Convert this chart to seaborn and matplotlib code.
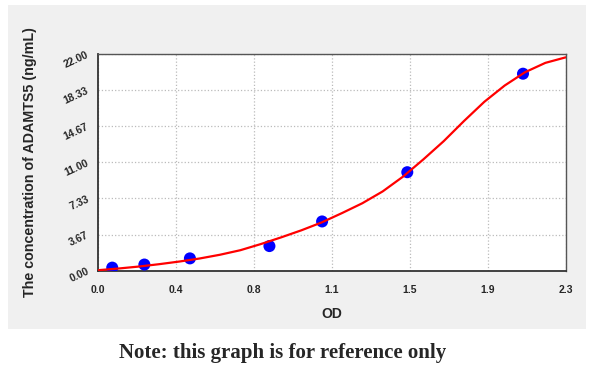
import numpy as np
import seaborn as sns
import matplotlib.pyplot as plt
from matplotlib.patches import Rectangle
from matplotlib.ticker import AutoMinorLocator

# standard points (OD vs concentration)
od = [0.070, 0.228, 0.452, 0.843, 1.102, 1.521, 2.090]
conc = [0.312, 0.625, 1.25, 2.5, 5.0, 10.0, 20.0]

# fitted curve
curve_od = [0.0, 0.1, 0.2, 0.3, 0.4, 0.5, 0.6, 0.7, 0.8, 0.9, 1.0, 1.1,
            1.2, 1.3, 1.4, 1.5, 1.6, 1.7, 1.8, 1.9, 2.0, 2.1, 2.2, 2.3]
curve_conc = [0.05, 0.22, 0.42, 0.66, 0.93, 1.24, 1.62, 2.08, 2.70, 3.38, 4.10, 4.90,
              5.85, 6.85, 8.05, 9.55, 11.30, 13.15, 15.20, 17.15, 18.80, 20.15, 21.10, 21.66]

x_ticks = ['0.0', '0.4', '0.8', '1.1', '1.5', '1.9', '2.3']
y_ticks = ['0.00', '3.67', '7.33', '11.00', '14.67', '18.33', '22.00']

sns.set_style('white')
plt.rcParams['font.family'] = ['Liberation Sans', 'DejaVu Sans']

fig = plt.figure(figsize=(6, 3.88), dpi=100)
fig.patch.set_facecolor('white')
# grey panel behind the plot
fig.patches.append(Rectangle((8 / 600, 1 - 329 / 388), 578 / 600, 324 / 388,
                             transform=fig.transFigure, facecolor='#f0f0f0',
                             edgecolor='none', zorder=-10))

ax = fig.add_axes([98 / 600, 1 - 270.7 / 388, 467.7 / 600, 216.7 / 388])
ax.set_facecolor('white')

sns.scatterplot(x=od, y=conc, ax=ax, color='#0000ff', s=75, edgecolor='none', zorder=3)
sns.lineplot(x=curve_od, y=curve_conc, ax=ax, color='#ff0000', lw=1.6, zorder=4)

ax.set_xlim(0, 2.3)
ax.set_ylim(0, 22)
ax.set_xticks(np.linspace(0, 2.3, 7))
ax.set_xticklabels(x_ticks, fontsize=7.5, fontweight='bold')
ax.set_yticks(np.linspace(0, 22, 7))
ax.set_yticklabels(y_ticks, fontsize=7.5, fontweight='bold', rotation=25,
                   ha='right', va='center', rotation_mode='anchor')
ax.xaxis.set_minor_locator(AutoMinorLocator(4))
ax.yaxis.set_minor_locator(AutoMinorLocator(4))
ax.tick_params(which='major', direction='out', length=4, width=1, color='#333333', pad=3)
ax.tick_params(which='minor', direction='out', length=3, width=1, color='#333333')
ax.tick_params(axis='x', which='major', pad=6)
ax.grid(True, which='major', ls=':', color='#bbbbbb', lw=0.9)

for side in ['left', 'bottom']:
    ax.spines[side].set_color('#333333')
    ax.spines[side].set_linewidth(1.3)
for side in ['top', 'right']:
    ax.spines[side].set_color('#555555')
    ax.spines[side].set_linewidth(1.0)

ax.set_xlabel('OD', fontsize=10, fontweight='bold', labelpad=9)
ax.set_ylabel('The concentration of ADAMTS5 (ng/mL)', fontsize=10.3, fontweight='bold', labelpad=18)

fig.text(283 / 600, 1 - 353 / 388, 'Note: this graph is for reference only',
         ha='center', va='center', fontsize=15, fontweight='bold',
         family=['Liberation Serif', 'DejaVu Serif'])

fig.savefig('out.png', dpi=100)
